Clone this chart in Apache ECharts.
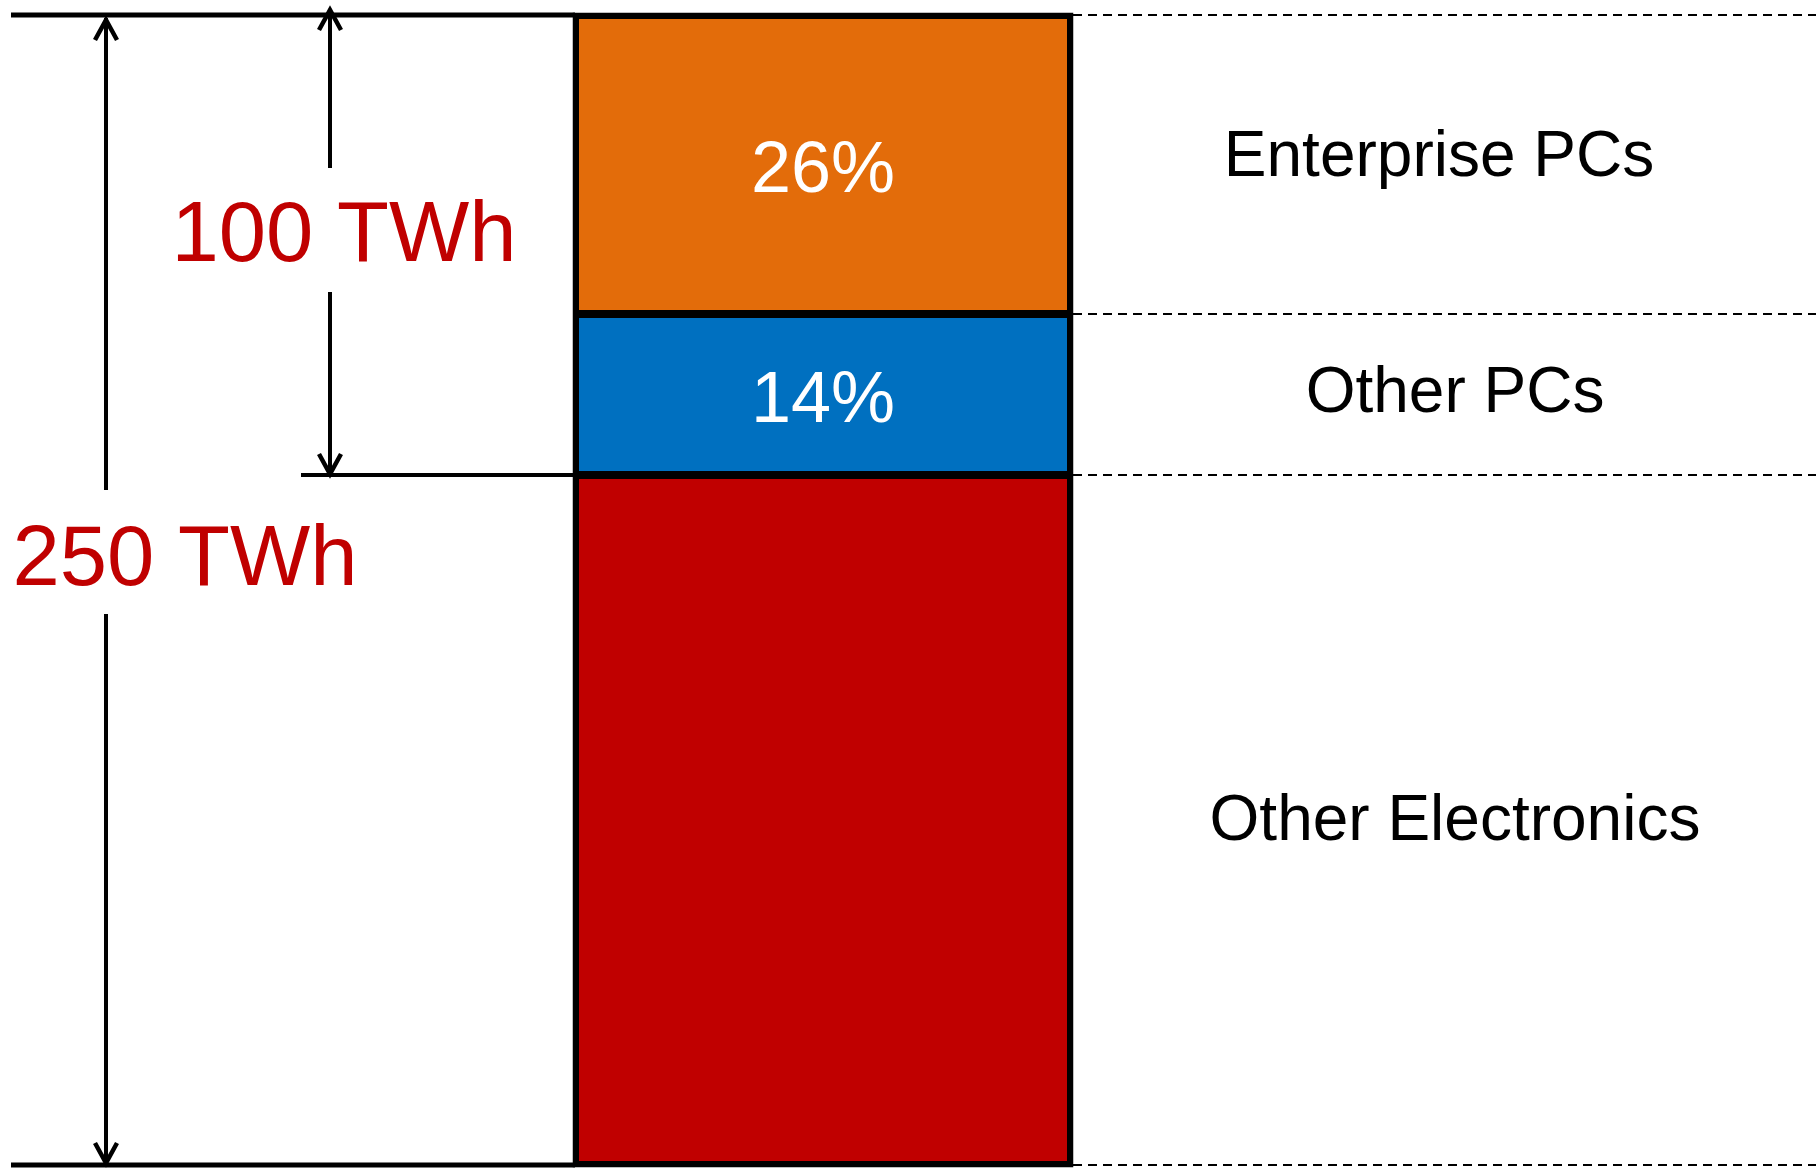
<!DOCTYPE html>
<html><head><meta charset="utf-8">
<script src="https://cdn.jsdelivr.net/npm/echarts@6/dist/echarts.min.js"></script>
<style>html,body{margin:0;padding:0;background:#fff}#c{width:1816px;height:1168px}</style>
</head><body><div id="c"></div>
<script>
// ---- data ----
const categories = ['Other Electronics', 'Other PCs', 'Enterprise PCs'];
const values = [150, 35, 65]; // TWh
const showPct = [false, true, true];
const totalLabel = '250 TWh';
const pcLabel = '100 TWh';

// ---- style / layout ----
const colors = ['#C00000', '#0070C0', '#E36C0A'];
const labelNudge = [[0, 6], [0, 4], [-16, -2]]; // small layout offsets for right labels
const FONT = '"Liberation Sans", Arial, sans-serif';
const W = 1816, H = 1168;
const GL = 575, GR = 745, GT = 15, GB = 3;
const barLeft = GL, barRight = W - GR;

const total = values.reduce((a, b) => a + b, 0);
const chart = echarts.init(document.getElementById('c'), null, {renderer: 'canvas'});

const series = categories.map((name, i) => ({
  name, type: 'bar', stack: 't', barWidth: '100%', clip: false,
  data: [values[i]],
  itemStyle: {color: colors[i], borderColor: '#000', borderWidth: 4},
  label: {
    show: showPct[i], position: 'inside', offset: [0, 8],
    formatter: () => Math.round(values[i] / total * 100) + '%',
    color: '#fff', fontSize: 72, fontFamily: FONT
  },
  silent: true
}));

chart.setOption({
  animation: false,
  grid: {left: GL, right: GR, top: GT, bottom: GB},
  xAxis: {type: 'category', data: ['Electricity'], show: false},
  yAxis: {type: 'value', min: 0, max: total, show: false},
  series
});

// boundaries from data
const cum = [0];
values.forEach(v => cum.push(cum[cum.length - 1] + v));
const py = v => chart.convertToPixel({yAxisIndex: 0}, v);
const yTop = py(total), yBot = py(0), yPC = py(values[0]);

const g = [];
const line = (x1, y1, x2, y2, w, dash) => g.push({
  type: 'line', shape: {x1, y1, x2, y2},
  style: {stroke: '#000', lineWidth: w, lineDash: dash || null}, z: 10
});
const head = (x, tip, dir) => g.push({
  type: 'polyline', shape: {points: [[x - 11, tip + dir * 20], [x, tip], [x + 11, tip + dir * 20]]},
  style: {stroke: '#000', lineWidth: 4.5, fill: null, lineJoin: 'miter'}, z: 10
});
const text = (str, x, y, size, color, align) => g.push({
  type: 'text', x, y,
  style: {text: str, fill: color, font: size + 'px ' + FONT, align: align || 'center', verticalAlign: 'middle'}, z: 11
});

// outer frame of the stacked bar
g.push({
  type: 'rect', shape: {x: barLeft, y: yTop, width: barRight - barLeft, height: yBot - yTop},
  style: {stroke: '#000', lineWidth: 4.5, fill: null}, z: 9
});

// dashed guides on right
cum.forEach(v => line(barRight + 2, py(v), W, py(v), 2, [9, 6]));
// solid horizontal lines on left
line(11, yTop, barLeft, yTop, 5);
line(11, yBot, barLeft, yBot, 5);
line(301, yPC, barLeft, yPC, 4);

// 250 TWh arrow
const ax1 = 106;
line(ax1, yTop + 3, ax1, 490, 4);
line(ax1, 614, ax1, yBot - 3, 4);
head(ax1, yTop + 5, 1);
head(ax1, yBot - 2, -1);
text(totalLabel, 185, 562, 85, '#C00000');

// 100 TWh arrow
const ax2 = 330;
line(ax2, yTop - 3, ax2, 168, 4);
line(ax2, 292, ax2, yPC - 3, 4);
head(ax2, yTop - 5, 1);
head(ax2, yPC - 1, -1);
text(pcLabel, 344, 238, 85, '#C00000');

// right-side category labels
categories.forEach((name, i) => {
  const mid = (py(cum[i]) + py(cum[i + 1])) / 2;
  text(name, 1455 + labelNudge[i][0], mid - 4 + labelNudge[i][1], 64, '#000');
});

chart.setOption({graphic: g});
</script>
</body></html>
